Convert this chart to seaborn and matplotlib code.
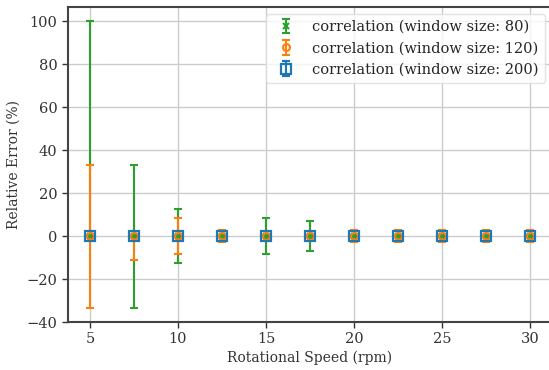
import numpy as np
import matplotlib
matplotlib.use("Agg")
import matplotlib.pyplot as plt
import seaborn as sns

# Rotational speeds (rpm)
speeds = [5, 7.5, 10, 12.5, 15, 17.5, 20, 22.5, 25, 27.5, 30]

# Mean relative error (%) per window size
err_80 = [0, 0, 0, 0, 0, 0, 0, 0, 0, 0, 0]
err_120 = [0, 0, 0, 0, 0, 0, 0, 0, 0, 0, 0]
err_200 = [0, 0, 0, 0, 0, 0, 0, 0, 0, 0, 0]

# Lower / upper spread of the relative error (%)
lo_80 = [0, 33.3, 12.5, 0, 8.3, 7.1, 0, 0, 0, 0, 0]
hi_80 = [100, 33.3, 12.5, 0, 8.3, 7.1, 0, 0, 0, 0, 0]
lo_120 = [33.3, 11.1, 8.3, 2.8, 0, 0, 2.8, 2.8, 2.8, 2.8, 2.8]
hi_120 = [33.3, 0, 8.3, 2.8, 0, 0, 2.8, 2.8, 2.8, 2.8, 2.8]
lo_200 = [0, 0, 0, 0, 0, 0, 0, 0, 0, 0, 0]
hi_200 = [0, 0, 0, 0, 0, 0, 0, 0, 0, 0, 0]

labels = ["correlation (window size: 80)",
          "correlation (window size: 120)",
          "correlation (window size: 200)"]

sns.set_theme(style="whitegrid")
plt.rcParams["font.family"] = ["DejaVu Serif"]
plt.rcParams["mathtext.fontset"] = "dejavuserif"

fig = plt.figure(figsize=(5.49, 3.70), dpi=100)
ax = fig.add_axes([68 / 549, 48 / 370, 484 / 549, 315 / 370])

palette = sns.color_palette("tab10")
green, orange, blue = palette[2], palette[1], palette[0]

ax.errorbar(speeds, err_80, yerr=[lo_80, hi_80], fmt="x", color=green,
            ms=5, mew=1.5, capsize=3, elinewidth=1.5, capthick=1.5,
            label=labels[0], zorder=3)
ax.errorbar(speeds, err_120, yerr=[lo_120, hi_120], fmt="o", color=orange,
            mfc="none", ms=5, mew=1.5, capsize=3, elinewidth=1.5,
            capthick=1.5, label=labels[1], zorder=3)
ax.errorbar(speeds, err_200, yerr=[lo_200, hi_200], fmt="s", color=blue,
            mfc="none", ms=7, mew=1.6, capsize=3, elinewidth=1.5,
            capthick=1.5, label=labels[2], zorder=3)

ax.set_xlim(3.75, 31.25)
ax.set_ylim(-40, 106.67)
ax.set_xticks([5, 10, 15, 20, 25, 30])
ax.set_yticks([-40, -20, 0, 20, 40, 60, 80, 100])

ax.set_xlabel("Rotational Speed (rpm)", fontsize=10, color="#333333", labelpad=3)
ax.set_ylabel("Relative Error (%)", fontsize=10, color="#333333", labelpad=4)
ax.tick_params(axis="both", labelsize=10.5, colors="#333333", length=4,
               width=1, direction="out", bottom=True, left=True, pad=3.5)

ax.grid(True, color="#cccccc", linewidth=1)
for side in ["left", "bottom", "top", "right"]:
    ax.spines[side].set_color("#444444")
    ax.spines[side].set_linewidth(1.5)

leg = ax.legend(loc="upper right", fontsize=10.5, frameon=True,
                borderaxespad=0.5, handletextpad=0.8)
leg.get_frame().set_edgecolor("#dddddd")

fig.savefig("out.png", dpi=100)
